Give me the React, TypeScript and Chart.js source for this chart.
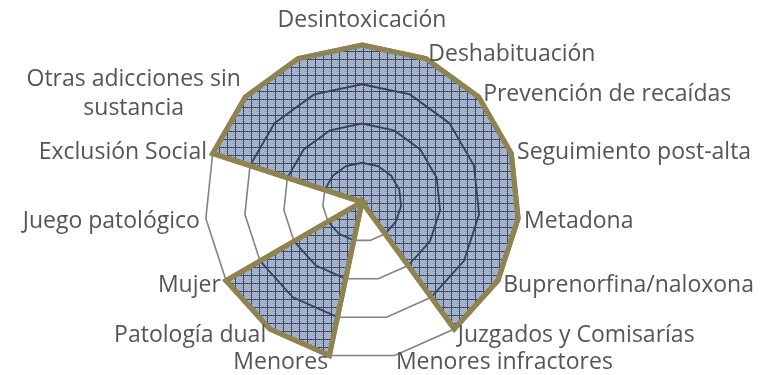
import React, { useEffect, useRef } from "react";
import { Chart, registerables } from "chart.js";
Chart.register(...registerables);

// Categories clockwise from the top (the last spoke has no label in the original)
const categories: (string | string[])[] = [
  "Desintoxicación",
  "Deshabituación",
  "Prevención de recaídas",
  "Seguimiento post-alta",
  "Metadona",
  "Buprenorfina/naloxona",
  "Juzgados y Comisarías",
  "Menores infractores",
  "Menores",
  "Patología dual",
  "Mujer",
  "Juego patológico",
  "Exclusión Social",
  ["Otras adicciones sin", "sustancia"],
  "",
];
const seriesValues: number[] = [1, 1, 1, 1, 1, 1, 1, 0, 1, 1, 1, 0, 1, 1, 1];
const scaleMin = 0;
const scaleMax = 1;
const scaleStep = 0.25;

const LABEL_FONT = '23px "Open Sans"';
const LABEL_COLOR = "#555555";
const BORDER_COLOR = "#8e8452";
const RING_GRAY = "#838383";
const RING_NAVY = "#33425f";

function makePattern(): CanvasPattern | string {
  const tile = document.createElement("canvas");
  tile.width = 8;
  tile.height = 8;
  const t = tile.getContext("2d");
  if (!t) return "#a4b0c6";
  for (let y = 0; y < 8; y++) {
    for (let x = 0; x < 8; x++) {
      t.fillStyle = (x + y) % 2 === 0 ? "#bcc6d7" : "#8d9cb8";
      t.fillRect(x, y, 1, 1);
    }
  }
  t.fillStyle = "#2f4a78";
  t.fillRect(3, 0, 1, 8);
  t.fillRect(0, 3, 8, 1);
  const ctx = document.createElement("canvas").getContext("2d");
  const p = ctx ? ctx.createPattern(tile, "repeat") : null;
  return p || "#a4b0c6";
}

const overlayPlugin = {
  id: "excelRadarOverlay",
  afterDatasetsDraw(chart: any) {
    const ctx: CanvasRenderingContext2D = chart.ctx;
    const scale = chart.scales.r;
    const meta = chart.getDatasetMeta(0);
    const pts = meta.data as any[];
    if (!pts.length) return;
    const n = chart.data.labels.length;
    // inner rings re-drawn in navy inside the filled area
    ctx.save();
    ctx.beginPath();
    pts.forEach((p, i) => (i === 0 ? ctx.moveTo(p.x, p.y) : ctx.lineTo(p.x, p.y)));
    ctx.closePath();
    ctx.clip();
    ctx.strokeStyle = RING_NAVY;
    ctx.lineWidth = 1.8;
    for (let v = scaleMin + scaleStep; v < scaleMax - 1e-9; v += scaleStep) {
      const d = scale.getDistanceFromCenterForValue(v);
      ctx.beginPath();
      for (let i = 0; i < n; i++) {
        const pp = scale.getPointPosition(i, d);
        if (i === 0) ctx.moveTo(pp.x, pp.y);
        else ctx.lineTo(pp.x, pp.y);
      }
      ctx.closePath();
      ctx.stroke();
    }
    ctx.restore();
    // border on top
    ctx.save();
    ctx.beginPath();
    pts.forEach((p, i) => (i === 0 ? ctx.moveTo(p.x, p.y) : ctx.lineTo(p.x, p.y)));
    ctx.closePath();
    ctx.strokeStyle = BORDER_COLOR;
    ctx.lineWidth = 5;
    ctx.lineJoin = "miter";
    ctx.stroke();
    ctx.restore();
  },
  afterDraw(chart: any) {
    const ctx: CanvasRenderingContext2D = chart.ctx;
    const scale = chart.scales.r;
    const labels = chart.data.labels as (string | string[])[];
    const n = labels.length;
    const outer = scale.getDistanceFromCenterForValue(scaleMax);
    ctx.save();
    ctx.font = LABEL_FONT;
    ctx.fillStyle = LABEL_COLOR;
    const lineH = 29;
    labels.forEach((lab, i) => {
      const lines = Array.isArray(lab) ? lab : [lab];
      if (!lines.join("")) return;
      const theta = (i / n) * Math.PI * 2; // from top, clockwise
      const s = Math.sin(theta);
      const c = Math.cos(theta);
      const v = scale.getPointPosition(i, outer);
      const widths = lines.map((l) => ctx.measureText(l).width);
      const bw = Math.max(...widths);
      const bh = lines.length * lineH;
      let left: number;
      let top: number;
      if (Math.abs(s) < 0.05) {
        left = v.x - bw / 2;
        top = c > 0 ? v.y - 10 - bh : v.y + 4;
      } else if (s > 0) {
        left = v.x + 6 * s;
        top = v.y - bh / 2 - 4 * c + (c < 0 ? 3 : 0);
      } else {
        left = v.x + 6 * s - bw;
        top = v.y - bh / 2 - 4 * c + (c < 0 ? 3 : 0);
      }
      ctx.textBaseline = "middle";
      ctx.textAlign = "center";
      lines.forEach((l, k) => {
        ctx.fillText(l, left + bw / 2, top + lineH * k + lineH / 2);
      });
    });
    ctx.restore();
  },
};

export default function App() {
  const ref = useRef<HTMLCanvasElement | null>(null);
  useEffect(() => {
    if (!ref.current) return;
    const chart = new Chart(ref.current, {
      type: "radar",
      data: {
        labels: categories as any,
        datasets: [
          {
            data: seriesValues,
            backgroundColor: makePattern() as any,
            borderColor: BORDER_COLOR,
            borderWidth: 5,
            pointRadius: 0,
            pointHoverRadius: 0,
            fill: true,
          },
        ],
      },
      options: {
        animation: false,
        responsive: true,
        maintainAspectRatio: false,
        layout: { padding: { left: 205, right: 242, top: 45, bottom: 16 } },
        plugins: { legend: { display: false }, tooltip: { enabled: false } },
        elements: { line: { tension: 0 } },
        scales: {
          r: {
            min: scaleMin,
            max: scaleMax,
            ticks: { stepSize: scaleStep, display: false },
            angleLines: { display: false },
            grid: { color: RING_GRAY, lineWidth: 1.6 },
            pointLabels: { display: false },
          },
        },
      },
      plugins: [overlayPlugin],
    });
    return () => chart.destroy();
  }, []);
  return (
    <div style={{ position: "absolute", left: 0, top: 0, width: 762, height: 375 }}>
      <canvas ref={ref} />
    </div>
  );
}
